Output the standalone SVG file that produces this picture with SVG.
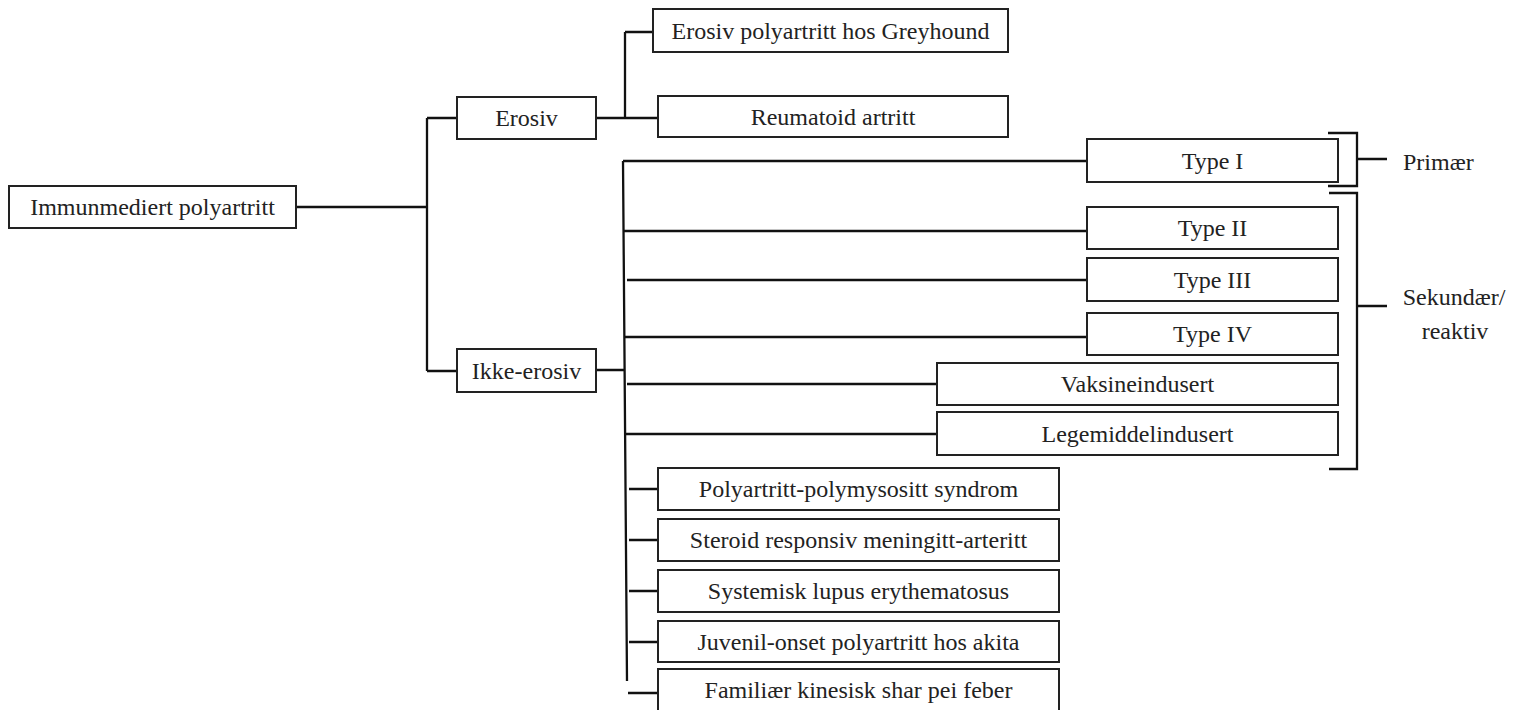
<svg xmlns="http://www.w3.org/2000/svg" width="1520" height="710" viewBox="0 0 1520 710">
<style>
rect{fill:#fff;stroke:#222;stroke-width:2}
text{font-family:'Liberation Serif',serif;font-size:24px;fill:#222;text-anchor:middle}
.c{fill:none;stroke:#111;stroke-width:2.3}
</style>
<rect x="0" y="0" width="1520" height="710" style="stroke:none"/>
<g id="connectors">
<path class="c" d="M296,207H427M427,118V371M427,118H457M427,371H457"/>
<path class="c" d="M596,118H625M625,32V118M625,32H653M625,118H658"/>
<path class="c" d="M596,370H624M623,161L627,681M623,161H1087M624,231H1087M627,280H1087M625,337H1087M627,384H937M625,434H937"/>
<path class="c" d="M629,489H658M629,540H658M629,591H658M629,642H658M628,693H658"/>
<path class="c" d="M1328,133H1357V186H1328M1357,159H1387"/>
<path class="c" d="M1329,193H1357V469H1329M1357,306H1387"/>
</g>
<g id="n-root"><rect x="9" y="186" width="287" height="42"/><text x="152.5" y="215">Immunmediert polyartritt</text></g>
<g id="n-erosiv"><rect x="457" y="97" width="139" height="42"/><text x="526.5" y="126">Erosiv</text></g>
<g id="n-ikke"><rect x="457" y="349" width="139" height="43"/><text x="526.5" y="378.5">Ikke-erosiv</text></g>
<g id="n-greyhound"><rect x="653" y="9" width="355" height="43"/><text x="830.5" y="38.5">Erosiv polyartritt hos Greyhound</text></g>
<g id="n-reumatoid"><rect x="658" y="96" width="350" height="41"/><text x="833" y="124.5">Reumatoid artritt</text></g>
<g id="n-type1"><rect x="1087" y="139" width="251" height="43"/><text x="1212.5" y="168.5">Type I</text></g>
<g id="n-type2"><rect x="1087" y="207" width="251" height="42"/><text x="1212.5" y="236">Type II</text></g>
<g id="n-type3"><rect x="1087" y="258" width="251" height="43"/><text x="1212.5" y="287.5">Type III</text></g>
<g id="n-type4"><rect x="1087" y="313" width="251" height="42"/><text x="1212.5" y="342">Type IV</text></g>
<g id="n-vaksine"><rect x="937" y="363" width="401" height="42"/><text x="1137.5" y="392">Vaksineindusert</text></g>
<g id="n-legemiddel"><rect x="937" y="412" width="401" height="43"/><text x="1137.5" y="441.5">Legemiddelindusert</text></g>
<g id="n-polymyo"><rect x="658" y="468" width="401" height="42"/><text x="858.5" y="497">Polyartritt-polymysositt syndrom</text></g>
<g id="n-steroid"><rect x="658" y="519" width="401" height="42"/><text x="858.5" y="548">Steroid responsiv meningitt-arteritt</text></g>
<g id="n-sle"><rect x="658" y="570" width="401" height="42"/><text x="858.5" y="599">Systemisk lupus erythematosus</text></g>
<g id="n-juvenil"><rect x="658" y="621" width="401" height="41"/><text x="858.5" y="649.5">Juvenil-onset polyartritt hos akita</text></g>
<g id="n-familiaer"><rect x="658" y="669" width="401" height="46"/><text x="858.5" y="698">Familiær kinesisk shar pei feber</text></g>
<g id="l-primaer"><text x="1403" y="170" style="text-anchor:start">Primær</text></g>
<g id="l-sekundaer"><text x="1454" y="305">Sekundær/</text><text x="1455" y="339">reaktiv</text></g>
</svg>
